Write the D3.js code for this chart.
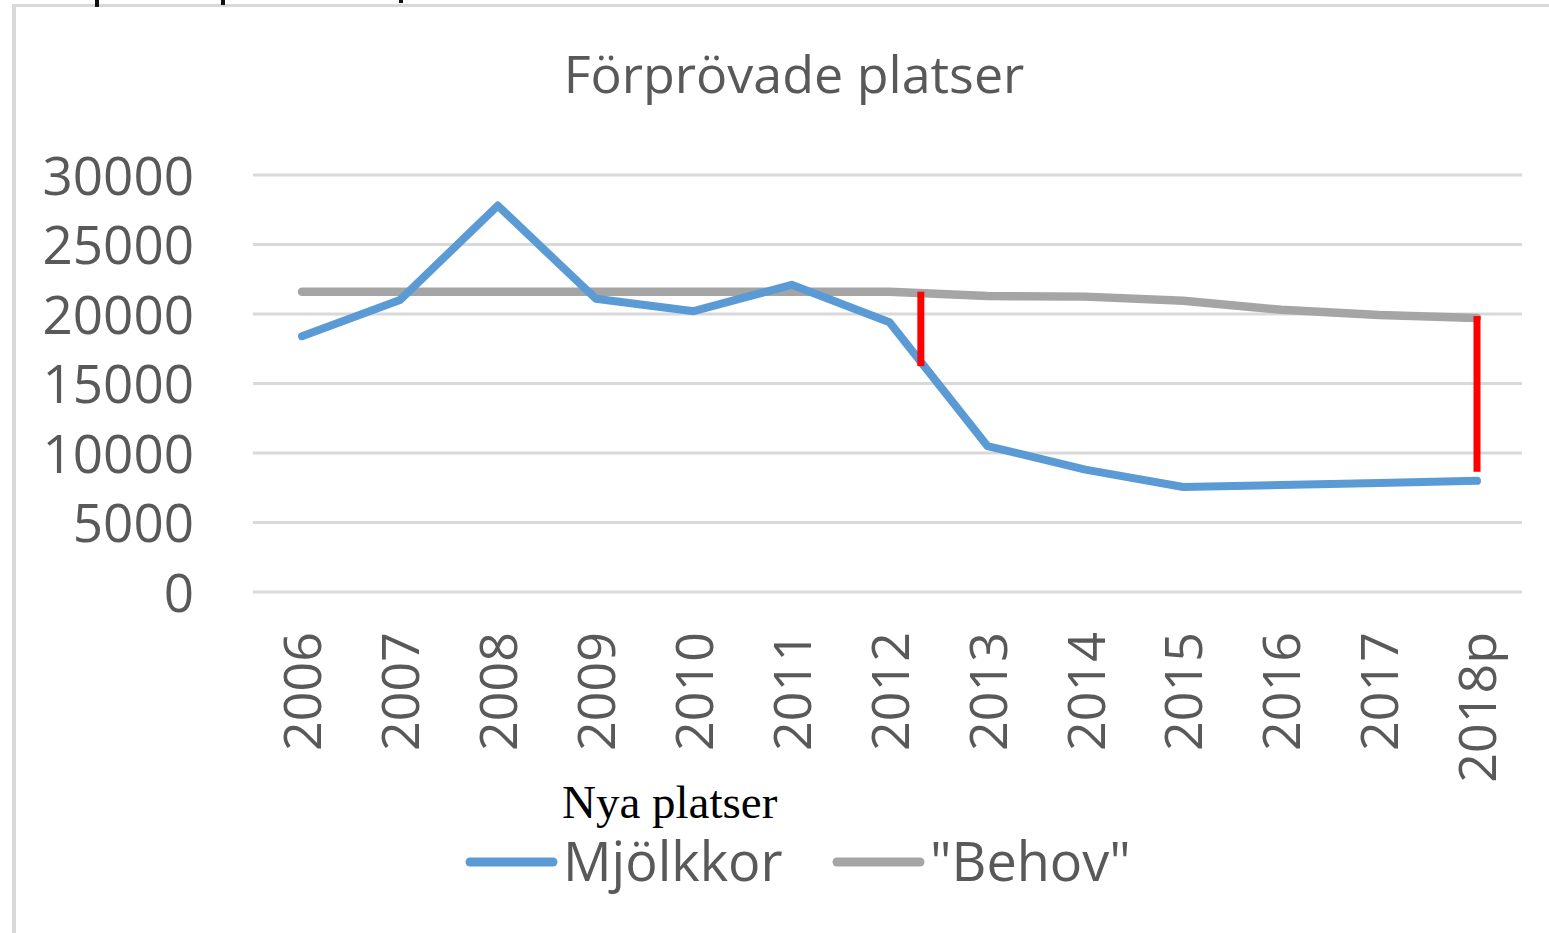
<!DOCTYPE html>
<html>
<head>
<meta charset="utf-8">
<script src="https://cdn.jsdelivr.net/npm/d3@7"></script>
<style>
  body { margin: 0; background: #fff; }
  text { font-family: "Open Sans", sans-serif; }
</style>
</head>
<body>
<div id="chart"></div>
<script>
var width = 1549,
    height = 933;

// data
var years = ["2006", "2007", "2008", "2009", "2010", "2011", "2012",
             "2013", "2014", "2015", "2016", "2017", "2018p"];
var mjolkkor = [18400, 21000, 27800, 21100, 20200, 22100, 19400,
                10500, 8800, 7550, 7700, 7850, 8000];
var behov = [21600, 21600, 21600, 21600, 21600, 21600, 21600,
             21300, 21250, 20950, 20300, 19930, 19720];
var yTicks = [0, 5000, 10000, 15000, 20000, 25000, 30000];
// red gap markers: position as fractional category index, from / to values
var gaps = [{ at: 6.32, from: 21600, to: 16250 },
            { at: 12, from: 19850, to: 8650 }];

var svg = d3.select("#chart").append("svg")
    .attr("width", width)
    .attr("height", height);

// frame of the cropped chart area
svg.append("rect").attr("x", 12).attr("y", 4).attr("width", width).attr("height", 3).attr("fill", "#d9d9d9");
svg.append("rect").attr("x", 12).attr("y", 4).attr("width", 4).attr("height", height).attr("fill", "#d9d9d9");
// bits of text cut off above the crop
[[95, 7], [221, 5], [399, 3]].forEach(function (m) {
  svg.append("rect").attr("x", m[0]).attr("y", 0).attr("width", 4).attr("height", m[1]).attr("fill", "#111");
});

var x = d3.scalePoint()
    .domain(years)
    .range([302, 1477]);

var y = d3.scaleLinear()
    .domain([0, 30000])
    .range([592, 175]);

// title
svg.append("text")
    .attr("x", 794)
    .attr("y", 93)
    .attr("text-anchor", "middle")
    .attr("fill", "#595959")
    .style("font-size", "52px")
    .text("Förprövade platser");

// gridlines
svg.append("g").selectAll("line")
  .data(yTicks)
  .join("line")
    .attr("x1", 253)
    .attr("x2", 1522)
    .attr("y1", d => y(d))
    .attr("y2", d => y(d))
    .attr("stroke", "#d9d9d9")
    .attr("stroke-width", 3);

// y axis labels
var yAxis = d3.axisLeft(y).tickValues(yTicks).tickSize(0).tickPadding(0).tickFormat(d3.format("d"));
var gy = svg.append("g").attr("transform", "translate(194,0)").call(yAxis);
gy.select(".domain").remove();
gy.selectAll("text")
    .attr("fill", "#595959")
    .attr("dy", "0.36em")
    .style("font-family", "'Open Sans', sans-serif")
    .style("font-size", "53px");

// x axis labels, rotated
var xAxis = d3.axisBottom(x).tickSize(0).tickPadding(0);
var gx = svg.append("g").attr("transform", "translate(0,632)").call(xAxis);
gx.select(".domain").remove();
gx.selectAll("text")
    .attr("fill", "#595959")
    .attr("text-anchor", "end")
    .attr("transform", "rotate(-90)")
    .attr("x", 0)
    .attr("y", 0)
    .attr("dy", "0.36em")
    .style("font-family", "'Open Sans', sans-serif")
    .style("font-size", "52px");

var line = d3.line()
    .x((d, i) => x(years[i]))
    .y(d => y(d));

svg.append("path")
    .datum(behov)
    .attr("d", line)
    .attr("fill", "none")
    .attr("stroke", "#a5a5a5")
    .attr("stroke-width", 8.5)
    .attr("stroke-linecap", "round")
    .attr("stroke-linejoin", "round");

svg.append("path")
    .datum(mjolkkor)
    .attr("d", line)
    .attr("fill", "none")
    .attr("stroke", "#5b9bd5")
    .attr("stroke-width", 8)
    .attr("stroke-linecap", "round")
    .attr("stroke-linejoin", "round");

// red markers
var step = x.step();
svg.append("g").selectAll("rect")
  .data(gaps)
  .join("rect")
    .attr("x", d => x.range()[0] + d.at * step - 3.5)
    .attr("y", d => y(d.from))
    .attr("width", 7)
    .attr("height", d => y(d.to) - y(d.from))
    .attr("fill", "#ff0000");

// annotation
svg.append("text")
    .attr("x", 562)
    .attr("y", 818)
    .attr("fill", "#000")
    .style("font-family", "'Liberation Serif', 'Times New Roman', serif")
    .style("font-size", "47px")
    .text("Nya platser");

// legend
var legend = [
  { name: "Mjölkkor", color: "#5b9bd5", x: 470 },
  { name: "\"Behov\"", color: "#a5a5a5", x: 837 }
];
var lg = svg.append("g").selectAll("g")
  .data(legend)
  .join("g")
    .attr("transform", d => "translate(" + d.x + ",862)");
lg.append("line")
    .attr("x1", 0)
    .attr("x2", 83)
    .attr("stroke", d => d.color)
    .attr("stroke-width", 9)
    .attr("stroke-linecap", "round");
lg.append("text")
    .attr("x", 93)
    .attr("y", 19)
    .attr("fill", "#595959")
    .style("font-size", "54px")
    .text(d => d.name);
</script>
</body>
</html>
